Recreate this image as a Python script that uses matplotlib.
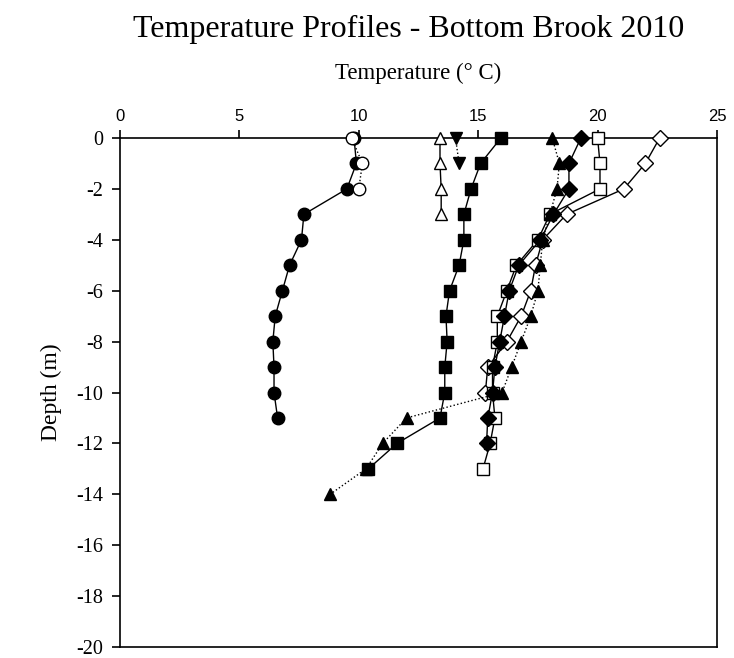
import matplotlib.pyplot as plt

plt.rcParams['axes.unicode_minus'] = False

# depth (m) for each profile, and temperature readings (deg C)
depth_circle = [0, -1, -2, -3, -4, -5, -6, -7, -8, -9, -10, -11]
temp_circle = [9.8, 9.9, 9.5, 7.7, 7.6, 7.1, 6.8, 6.5, 6.4, 6.45, 6.45, 6.6]

depth_open_circle = [0, -1, -2]
temp_open_circle = [9.7, 10.15, 10.0]

depth_open_tri = [0, -1, -2, -3]
temp_open_tri = [13.4, 13.4, 13.45, 13.45]

depth_down_tri = [0, -1]
temp_down_tri = [14.05, 14.2]

depth_square = [0, -1, -2, -3, -4, -5, -6, -7, -8, -9, -10, -11, -12, -13]
temp_square = [15.95, 15.1, 14.7, 14.4, 14.4, 14.2, 13.8, 13.65, 13.7, 13.6, 13.6, 13.4, 11.6, 10.4]

depth_tri = [0, -1, -2, -3, -4, -5, -6, -7, -8, -9, -10, -11, -12, -13, -14]
temp_tri = [18.1, 18.4, 18.3, 18.0, 17.7, 17.6, 17.5, 17.2, 16.8, 16.4, 16.0, 12.0, 11.0, 10.3, 8.8]

depth_diamond = [0, -1, -2, -3, -4, -5, -6, -7, -8, -9, -10, -11, -12]
temp_diamond = [19.3, 18.8, 18.8, 18.15, 17.6, 16.7, 16.3, 16.1, 15.9, 15.7, 15.6, 15.4, 15.35]

depth_open_square = [0, -1, -2, -3, -4, -5, -6, -7, -8, -9, -10, -11, -12, -13]
temp_open_square = [20.0, 20.1, 20.1, 18.0, 17.5, 16.6, 16.2, 15.8, 15.8, 15.6, 15.6, 15.7, 15.5, 15.2]

depth_open_diamond = [0, -1, -2, -3, -4, -5, -6, -7, -8, -9, -10]
temp_open_diamond = [22.6, 22.0, 21.1, 18.7, 17.7, 17.4, 17.2, 16.8, 16.2, 15.4, 15.3]

x_ticks = [0, 5, 10, 15, 20, 25]
y_ticks = [0, -2, -4, -6, -8, -10, -12, -14, -16, -18, -20]

fig = plt.figure(figsize=(7.34, 6.58), dpi=100)
ax = fig.add_axes([120 / 734, 11 / 658, 597 / 734, 509 / 658])


def profile(temps, depths, ls, marker, face, size=9):
    ax.plot(temps, depths, linestyle=ls, marker=marker, color='black', linewidth=1.0,
            markersize=size, markerfacecolor=face, markeredgecolor='black',
            markeredgewidth=1.0, clip_on=False, zorder=3)


# back to front
profile(temp_open_diamond, depth_open_diamond, '-', 'D', 'white', 8)
profile(temp_open_square, depth_open_square, '-', 's', 'white')
profile(temp_tri, depth_tri, ':', '^', 'black')
profile(temp_diamond, depth_diamond, '-', 'D', 'black', 8)
profile(temp_square, depth_square, '-', 's', 'black')
profile(temp_down_tri, depth_down_tri, ':', 'v', 'black')
profile(temp_open_tri, depth_open_tri, '-', '^', 'white')
profile(temp_circle, depth_circle, '-', 'o', 'black')
profile(temp_open_circle, depth_open_circle, ':', 'o', 'white')

ax.set_xlim(0, 25)
ax.set_ylim(-20, 0)
ax.set_xticks(x_ticks)
ax.set_yticks(y_ticks)
ax.xaxis.tick_top()
ax.xaxis.set_label_position('top')
ax.tick_params(axis='x', direction='out', length=6, width=1.2, labelsize=12, pad=4)
ax.tick_params(axis='y', direction='out', length=6, width=1.2, labelsize=14.5, pad=6)
for lab in ax.get_xticklabels():
    lab.set_family('Liberation Sans')
for lab in ax.get_yticklabels():
    lab.set_family('Liberation Serif')
for sp in ax.spines.values():
    sp.set_linewidth(1.2)
    sp.set_zorder(2)

ax.set_xlabel('Temperature (° C)', family='Liberation Serif', fontsize=16.5, labelpad=22)
ax.set_ylabel('Depth (m)', family='Liberation Serif', fontsize=17, labelpad=10)
fig.text(0.557, 0.955, 'Temperature Profiles - Bottom Brook 2010', family='Liberation Serif',
         fontsize=23, ha='center', va='center')

fig.savefig('out.png', dpi=100)
